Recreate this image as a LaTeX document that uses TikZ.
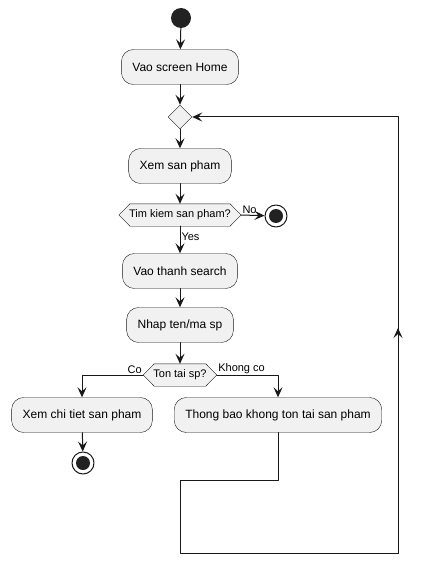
\documentclass[tikz,border=0pt]{standalone}
\usepackage{fontspec}
\setmainfont{Liberation Sans}
\usetikzlibrary{arrows.meta,shapes.geometric,backgrounds}
\definecolor{boxfill}{HTML}{F1F1F1}
\definecolor{linecol}{HTML}{181818}
\definecolor{dotcol}{HTML}{222222}
\begin{document}
\begin{tikzpicture}[line cap=round,line join=round,>={Stealth[length=10pt,width=9pt,inset=4pt]},x=1pt,y=-1pt,
    act/.style={draw=linecol,fill=boxfill,rounded corners=12pt,minimum height=35pt,inner xsep=11pt,font=\fontsize{12}{14}\selectfont},
    ask/.style={minimum height=22pt,inner xsep=10pt,inner ysep=0pt,font=\fontsize{11}{13}\selectfont},
    hexbox/.style={draw=linecol,fill=boxfill},
    merge/.style={draw=linecol,fill=boxfill,diamond,minimum size=24pt,inner sep=0pt},
    startdot/.style={circle,fill=dotcol,minimum size=20pt,inner sep=0pt},
    stopdot/.style={circle,draw=linecol,line width=1pt,fill=white,minimum size=22pt,inner sep=0pt,
      path picture={\fill[dotcol] (path picture bounding box.center) circle (7pt);}},
    flow/.style={->,draw=linecol,line width=1pt},
    lbl/.style={font=\fontsize{11}{13}\selectfont,inner sep=1pt}]
    \useasboundingbox (0,0) rectangle (423,564);
    \node[startdot] (start) at (181,18) {};
    \node[act] (home) at (180,67) {Vao screen Home};
    \node[merge] (merge) at (180,117) {};
    \node[act] (xem) at (180,166) {Xem san pham};
    \node[ask] (tim) at (180,215) {Tim kiem san pham?};
    \node[stopdot] (stop1) at (276,216) {};
    \node[act] (search) at (180,271) {Vao thanh search};
    \node[act] (nhap) at (180,325) {Nhap ten/ma sp};
    \node[ask] (tontai) at (180,375) {Ton tai sp?};
    \node[act] (chitiet) at (82,415) {Xem chi tiet san pham};
    \node[act] (thong) at (278,415) {Thong bao khong ton tai san pham};
    \node[stopdot] (stop2) at (83,463) {};
    \begin{scope}[on background layer]
      \foreach \q in {tim,tontai}
      \filldraw[hexbox] (\q.west) -- ([xshift=11pt]\q.north west) -- ([xshift=-11pt]\q.north east)
        -- (\q.east) -- ([xshift=-11pt]\q.south east) -- ([xshift=11pt]\q.south west) -- cycle;
    \end{scope}
    \coordinate (c1) at (278,480);
    \coordinate (c2) at (180,480);
    \coordinate (c3) at (180,553);
    \coordinate (c4) at (398,553);
    \coordinate (c5) at (398,117);
    \coordinate (c6) at (398,328);
    \draw[flow] (start) -- (home);
    \draw[flow] (home) -- (merge);
    \draw[flow] (merge) -- (xem);
    \draw[flow] (xem) -- (tim);
    \draw[flow] (tim.east) -- (stop1) node[lbl,pos=0,anchor=south west] {No};
    \draw[flow] (tim) -- (search) node[lbl,pos=0.4,anchor=west] {Yes};
    \draw[flow] (search) -- (nhap);
    \draw[flow] (nhap) -- (tontai);
    \draw[flow] (tontai.west) node[lbl,anchor=south east] {Co} -| (chitiet);
    \draw[flow] (tontai.east) node[lbl,anchor=south west] {Khong co} -| (thong);
    \draw[flow] (chitiet) -- (stop2);
    \draw[flow] (thong) -- (c1) -- (c2) -- (c3) -- (c4) -- (c5) -- (merge);
    \draw[flow] (c4) -- (c6);
\end{tikzpicture}
\end{document}
